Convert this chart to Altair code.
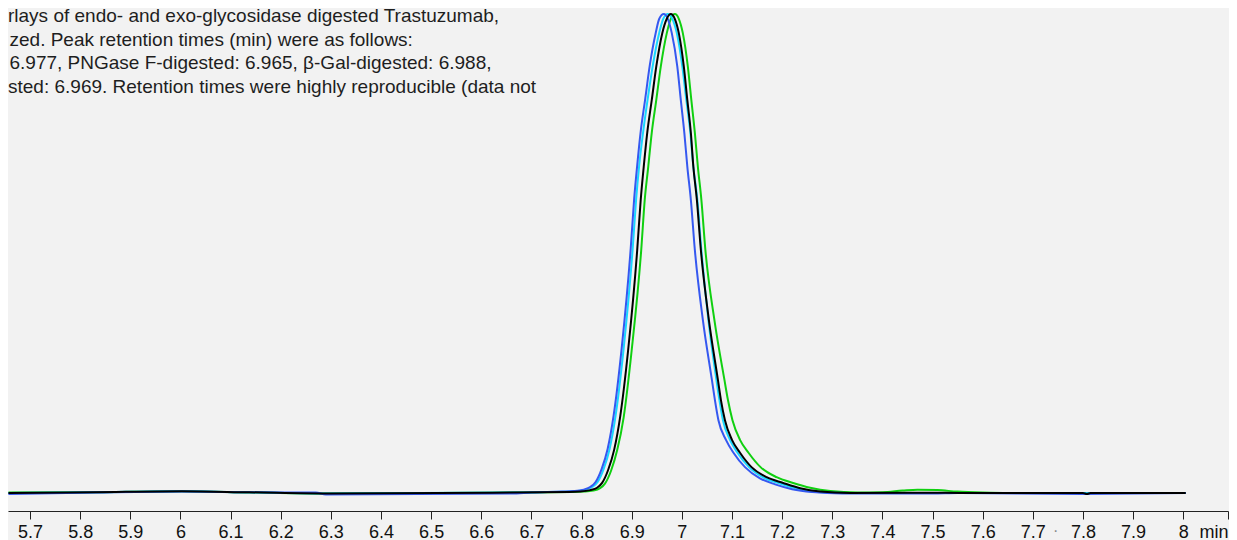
import altair as alt
import pandas as pd

# ---- data (time in min, signal normalised to peak = 100) ----
black_t = [5.657, 5.826, 6.003, 6.137, 6.298, 6.657, 6.775, 6.797, 6.817, 6.831, 6.841, 6.853, 6.865, 6.877,
           6.893, 6.911, 6.918, 6.924, 6.931, 6.940, 6.949, 6.961, 6.970, 6.978, 6.986, 6.994, 7.004, 7.011,
           7.018, 7.023, 7.030, 7.038, 7.054, 7.072, 7.078, 7.086, 7.100, 7.116, 7.139, 7.169, 7.202, 7.236,
           7.276, 7.335, 7.450, 7.600, 7.800, 7.808, 7.815, 8.005]
black_v = [0.0, 0.15, 0.35, 0.15, -0.1, 0.1, 0.2, 0.3, 0.6, 1.1, 2.1, 4.8, 9.0, 15.9,
           29.9, 50.7, 61.2, 68.1, 75.2, 82.0, 89.0, 96.0, 99.0, 100.0, 99.0, 96.0, 89.0, 82.0,
           75.2, 68.1, 61.2, 50.7, 36.1, 23.6, 19.4, 15.2, 11.1, 8.4, 5.4, 3.3, 2.1, 1.0,
           0.3, 0.0, 0.05, 0.0, 0.0, -0.2, 0.0, 0.0]

blue_t = [5.657, 5.830, 6.003, 6.137, 6.270, 6.290, 6.660, 6.700, 6.762, 6.784, 6.804, 6.818, 6.828, 6.840,
          6.852, 6.864, 6.880, 6.898, 6.905, 6.911, 6.918, 6.927, 6.936, 6.948, 6.955, 6.964, 6.972, 6.980,
          6.991, 6.998, 7.005, 7.011, 7.018, 7.026, 7.042, 7.060, 7.066, 7.073, 7.088, 7.103, 7.126, 7.155,
          7.186, 7.220, 7.260, 7.320, 7.500, 7.550, 7.800, 8.005]
blue_v = [-0.2, 0.1, 0.3, 0.15, 0.1, -0.3, -0.1, 0.1, 0.3, 0.4, 0.7, 1.3, 2.3, 5.0,
          9.2, 16.2, 30.2, 51.0, 61.5, 68.4, 75.5, 82.3, 89.2, 96.1, 99.0, 100.0, 99.0, 96.0,
          89.0, 82.0, 75.2, 68.1, 61.2, 50.7, 36.1, 23.6, 19.4, 15.2, 11.1, 8.4, 5.4, 3.1,
          1.8, 0.8, 0.2, -0.1, -0.1, 0.0, -0.2, 0.0]

cyan_t = [5.657, 5.826, 6.003, 6.137, 6.298, 6.657, 6.775, 6.788, 6.808, 6.822, 6.832, 6.844, 6.856, 6.868,
          6.884, 6.902, 6.909, 6.915, 6.923, 6.932, 6.942, 6.955, 6.963, 6.972, 6.981, 6.990, 7.001, 7.009,
          7.017, 7.023, 7.031, 7.039, 7.053, 7.069, 7.075, 7.082, 7.096, 7.111, 7.134, 7.163, 7.195, 7.230,
          7.270, 7.330, 8.005]
cyan_v = [0.0, 0.15, 0.35, 0.15, -0.1, 0.1, 0.3, 0.4, 0.7, 1.3, 2.3, 5.0, 9.2, 16.2,
          30.2, 51.0, 61.5, 68.4, 75.5, 82.3, 89.2, 96.1, 99.0, 100.0, 99.0, 96.0, 89.0, 82.0,
          75.2, 68.1, 61.2, 50.7, 36.1, 23.6, 19.4, 15.2, 11.1, 8.4, 5.4, 3.2, 2.0, 0.9,
          0.2, 0.0, 0.0]

green_t = [5.657, 5.830, 6.003, 6.140, 6.298, 6.657, 6.780, 6.803, 6.823, 6.837, 6.847, 6.859, 6.871, 6.884,
           6.900, 6.919, 6.926, 6.933, 6.940, 6.949, 6.958, 6.970, 6.978, 6.986, 6.994, 7.002, 7.012, 7.019,
           7.026, 7.032, 7.039, 7.047, 7.065, 7.085, 7.092, 7.101, 7.116, 7.133, 7.157, 7.189, 7.222, 7.256,
           7.296, 7.350, 7.400, 7.440, 7.470, 7.510, 7.550, 7.600, 7.650, 8.005]
green_v = [0.1, 0.15, 0.35, 0.1, -0.1, 0.1, 0.2, 0.3, 0.5, 1.0, 2.0, 4.7, 8.9, 15.8,
           29.8, 50.7, 61.2, 68.1, 75.2, 82.0, 89.0, 96.0, 99.0, 100.0, 99.0, 96.0, 89.0, 82.0,
           75.2, 68.1, 61.2, 50.7, 36.1, 23.6, 19.4, 15.2, 11.1, 8.4, 5.4, 3.3, 2.1, 1.1,
           0.4, 0.1, 0.15, 0.5, 0.7, 0.6, 0.3, 0.1, 0.0, 0.0]

tick_values = [5.7, 5.8, 5.9, 6.0, 6.1, 6.2, 6.3, 6.4, 6.5, 6.6, 6.7, 6.8, 6.9,
               7.0, 7.1, 7.2, 7.3, 7.4, 7.5, 7.6, 7.7, 7.8, 7.9, 8.0, 8.0893]

caption_lines = [
    "rlays of endo- and exo-glycosidase digested Trastuzumab,",
    "zed. Peak retention times (min) were as follows:",
    "6.977, PNGase F-digested: 6.965, β-Gal-digested: 6.988,",
    "sted: 6.969. Retention times were highly reproducible (data not",
]

series = [
    ("β-Gal-digested", green_t, green_v, "#10d010"),
    ("Sialidase-digested", cyan_t, cyan_v, "#19d8ff"),
    ("PNGase F-digested", blue_t, blue_v, "#3558f0"),
    ("Undigested", black_t, black_v, "#000000"),
]

X_DOMAIN = [5.6561, 8.0893]
Y_DOMAIN = [-3.76, 101.25]

x_enc = alt.X(
    "t:Q",
    scale=alt.Scale(domain=X_DOMAIN, nice=False, zero=False),
    axis=alt.Axis(
        values=tick_values,
        format="~g",
        labelExpr="datum.value > 8.05 ? 'min' : datum.label",
        labelAlign={"condition": {"test": "datum.value > 8.05", "value": "right"}, "value": "center"},
        labelFlush=False,
        labelOverlap=False,
        labelFont="Liberation Sans",
        labelFontSize=18,
        labelColor="#111111",
        labelPadding=4,
        tickSize=8,
        tickColor="#222222",
        tickWidth=1,
        domainColor="#222222",
        domainWidth=1,
        grid=False,
        title=None,
    ),
)
y_enc = alt.Y("v:Q", scale=alt.Scale(domain=Y_DOMAIN, nice=False, zero=False), axis=None)

layers = []
for name, ts, vs, col in series:
    df = pd.DataFrame({"t": ts, "v": vs, "series": name})
    layers.append(
        alt.Chart(df)
        .mark_line(color=col, strokeWidth=2, interpolate="monotone")
        .encode(x=x_enc, y=y_enc)
    )

cap_x = [0, 1.5, 1.5, 0]
cap_y = [14, 37.5, 61, 84.5]
for line, cx, cy in zip(caption_lines, cap_x, cap_y):
    layers.append(
        alt.Chart(pd.DataFrame({"a": [0]}))
        .mark_text(text=line, align="left", baseline="alphabetic", font="Liberation Sans",
                   fontSize=19, color="#1e1e1e")
        .encode(x=alt.value(cx), y=alt.value(cy))
    )

layers.append(
    alt.Chart(pd.DataFrame({"a": [0]}))
    .mark_text(text="·", align="center", baseline="middle", font="Liberation Sans",
               fontSize=16, color="#8a8a8a")
    .encode(x=alt.value(1047.7), y=alt.value(523))
)

chart = (
    alt.layer(*layers)
    .properties(
        width=1220,
        height=503,
        background="#f2f2f2",
        autosize=alt.AutoSizeParams(type="none"),
        padding={"left": 0, "top": 0, "right": 1, "bottom": 29},
    )
    .configure_view(stroke=None)
)

chart.save("out.html", embed_options={"renderer": "svg", "actions": False})
